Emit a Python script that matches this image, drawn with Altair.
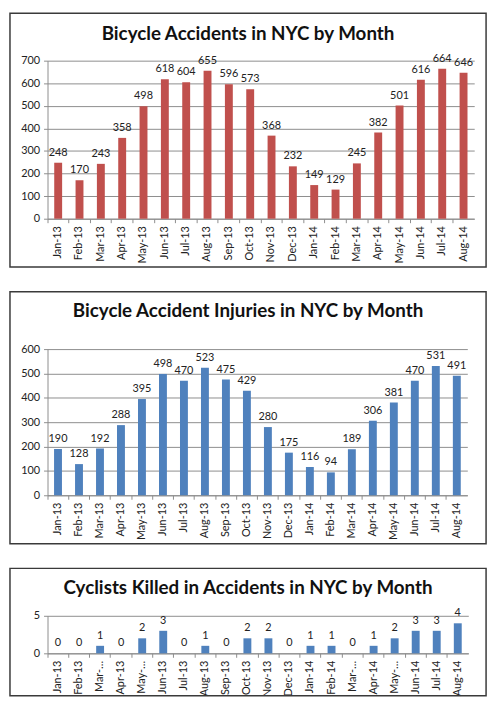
import json
import pandas as pd
import altair as alt

# data
months = ["Jan-13", "Feb-13", "Mar-13", "Apr-13", "May-13", "Jun-13", "Jul-13",
          "Aug-13", "Sep-13", "Oct-13", "Nov-13", "Dec-13", "Jan-14", "Feb-14",
          "Mar-14", "Apr-14", "May-14", "Jun-14", "Jul-14", "Aug-14"]
accidents = [248, 170, 243, 358, 498, 618, 604, 655, 596, 573, 368, 232,
             149, 129, 245, 382, 501, 616, 664, 646]
injuries = [190, 128, 192, 288, 395, 498, 470, 523, 475, 429, 280, 175,
            116, 94, 189, 306, 381, 470, 531, 491]
killed = [0, 0, 1, 0, 2, 3, 0, 1, 0, 2, 2, 0, 1, 1, 0, 1, 2, 3, 3, 4]

accident_ticks = [0, 100, 200, 300, 400, 500, 600, 700]
injury_ticks = [0, 100, 200, 300, 400, 500, 600]
killed_ticks = [0, 5]

# labels Excel cut short in the small chart
cut_labels = ["Mar-13", "May-13", "Mar-14", "May-14"]

FONT = "Lato"
RED = "#C0504D"
BLUE = "#4F81BD"
GRID = "#8c8c8c"


def make_panel(values, color, title, width, height, ticks, frame, title_offset, label_expr=None):
    df = pd.DataFrame({"month": months, "value": values})
    axis_x = dict(
        labelAngle=-90, bandPosition=0, tickSize=4, labelPadding=3,
        domainColor=GRID, tickColor=GRID, grid=False,
    )
    if label_expr:
        axis_x["labelExpr"] = label_expr
    base = alt.Chart(df).encode(
        x=alt.X("month:N", sort=months, title=None,
                scale=alt.Scale(paddingInner=0, paddingOuter=0),
                axis=alt.Axis(**axis_x)),
        y=alt.Y("value:Q", title=None,
                scale=alt.Scale(domain=[ticks[0], ticks[-1]], nice=False),
                axis=alt.Axis(values=ticks, tickSize=4, labelPadding=4,
                              domainColor=GRID, tickColor=GRID,
                              gridColor=GRID, gridWidth=1)),
    )
    bars = base.mark_bar(size=8, color=color)
    labels = base.mark_text(baseline="middle", dy=-10, fontSize=11,
                            font=FONT, color="#222222").encode(text="value:Q")
    y1, y2 = frame
    # panel border drawn around title, axes and plot
    border = alt.Chart(pd.DataFrame({"k": [0]})).mark_rect(
        filled=False, stroke="#3a3a3a", strokeWidth=1.5
    ).encode(x=alt.value(-38), x2=alt.value(444), y=alt.value(y1), y2=alt.value(y2))
    return alt.layer(border, bars, labels).properties(
        width=width, height=height,
        title=alt.TitleParams(title, font=FONT, fontSize=19, fontWeight="bold",
                              color="#111111", anchor="middle", frame="bounds",
                              offset=title_offset),
    )


top = make_panel(accidents, RED, "Bicycle Accidents in NYC by Month", 432, 160,
                 accident_ticks, (-48, 209), -32)
middle = make_panel(injuries, BLUE, "Bicycle Accident Injuries in NYC by Month", 425, 148,
                    injury_ticks, (-58, 197), -30)
expr = ("indexof(%s, datum.value) >= 0 ? slice(datum.value, 0, 4) + '…' : datum.value"
        % json.dumps(cut_labels).replace('"', "'"))
bottom = make_panel(killed, BLUE, "Cyclists Killed in Accidents in NYC by Month", 426, 38,
                    killed_ticks, (-48, 81), -31, label_expr=expr)

chart = alt.vconcat(top, middle, bottom, spacing=23).properties(
    padding={"left": 1, "top": 0, "right": 5, "bottom": 5}
).configure_view(stroke=None).configure_axis(
    labelFont=FONT, labelFontSize=11, labelColor="#222222"
)

chart.save("out.html", embed_options={"renderer": "svg", "actions": False})
